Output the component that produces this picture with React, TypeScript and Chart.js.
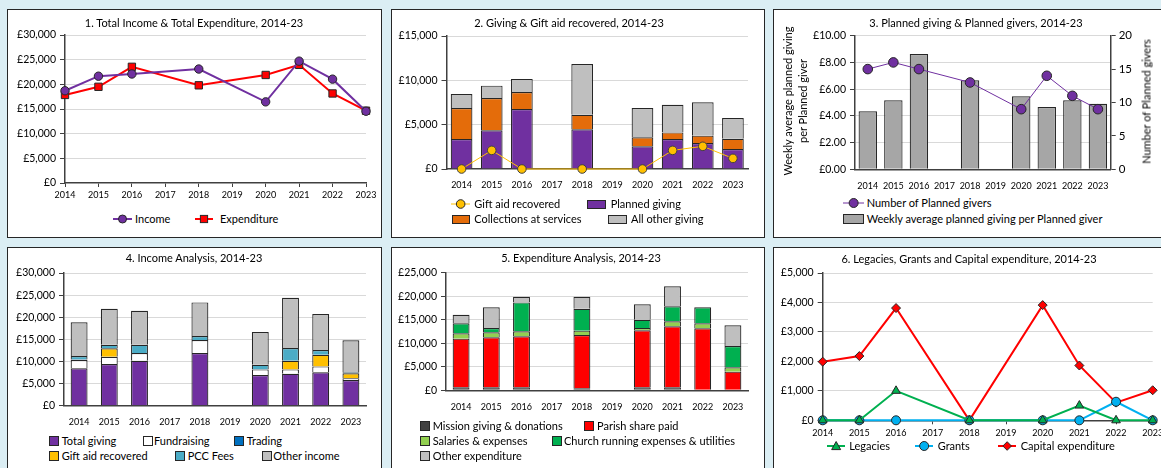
import React, { useEffect, useRef } from 'react';
import { Chart, registerables } from 'chart.js';
Chart.register(...registerables);

const FONT = 'Lato, "Open Sans", sans-serif';
const AXIS = '#404040';
const GRID = '#d9d9d9';
const EDGE = '#262626';

// ---------- DATA ----------
const years = ['2014', '2015', '2016', '2017', '2018', '2019', '2020', '2021', '2022', '2023'];

// 1. Total income & expenditure
const income = [18700, 21650, 22100, null, 23100, null, 16450, 24700, 21050, 14550];
const expenditure = [17850, 19500, 23550, null, 19800, null, 21900, 23950, 18150, 14650];

// 2. Giving & gift aid
const plannedGiving = [3380, 4360, 6770, null, 4470, null, 2560, 3380, 2930, 2260];
const collections = [3500, 3650, 1920, null, 1650, null, 1010, 750, 830, 1160];
const otherGiving = [1580, 1390, 1470, null, 5710, null, 3310, 3120, 3760, 2330];
const giftAidRecovered = [0, 2100, 0, null, 0, null, 0, 2100, 2560, 1200];

// 3. Planned giving & givers
const weeklyAvgPerGiver = [4.34, 5.16, 8.63, null, 6.66, null, 5.46, 4.66, 5.16, 4.91];
const plannedGivers = [15, 16, 15, null, 13, null, 9, 14, 11, 9];

// 4. Income analysis
const totalGiving = [8440, 9420, 10170, null, 11900, null, 6930, 7230, 7540, 5800];
const fundraising = [1880, 1660, 1740, null, 2940, null, 1280, 980, 1350, 380];
const trading = [150, 0, 0, null, 0, null, 0, 0, 0, 0];
const giftAidIncome = [0, 1880, 0, null, 0, null, 0, 1960, 2640, 1130];
const pccFees = [750, 830, 1880, null, 900, null, 1060, 2860, 1050, 230];
const otherIncome = [7620, 8140, 7690, null, 7610, null, 7380, 11380, 8140, 7230];

// 5. Expenditure analysis
const missionGiving = [640, 640, 640, null, 430, null, 640, 640, 0, 0];
const parishShare = [10340, 10620, 10830, null, 11330, null, 12110, 12960, 13170, 3970];
const salaries = [1130, 1060, 1060, null, 920, null, 500, 1060, 1060, 920];
const churchRunning = [2120, 920, 6160, null, 4670, null, 1760, 3190, 3400, 4530];
const otherExpenditure = [1840, 4390, 1200, null, 2550, null, 3260, 4250, 0, 4390];

// 6. Legacies, grants, capital
const legacies = [0, 0, 1000, null, 0, null, 0, 500, 0, 0];
const grants = [0, 0, 0, null, 0, null, 0, 0, 630, 0];
const capitalExpenditure = [1990, 2180, 3810, null, 0, null, 3910, 1860, 600, 1020];

// ---------- HELPERS ----------
const gbp = (v: number) => '£' + v.toLocaleString('en-GB');
const gbp2 = (v: number) => '£' + v.toFixed(2);

type Rect = { x: number; y: number; w: number; h: number };
type Plot = { l: number; t: number; r: number; b: number };

const yAxis = (max: number, step: number, fmt: (v: number) => string, width: number) => ({
  type: 'linear',
  position: 'left',
  min: 0,
  max,
  ticks: { stepSize: step, callback: (v: any) => fmt(Number(v)), font: { family: FONT, size: 10.5 }, color: '#000', padding: 4 },
  grid: {
    color: (c: any) => (c.tick && c.tick.value === 0 ? 'rgba(0,0,0,0)' : GRID),
    lineWidth: 1,
    tickLength: 5,
    tickColor: AXIS,
  },
  border: { color: AXIS, width: 1.5 },
  afterFit: (s: any) => {
    s.width = width;
  },
});

const xAxis = (line: boolean, height: number, stacked = false) => ({
  type: 'category',
  offset: !line,
  stacked,
  grid: { display: line, drawOnChartArea: false, tickLength: 4, tickColor: AXIS },
  border: { color: AXIS, width: 1.5 },
  ticks: { font: { family: FONT, size: 9 }, color: '#000', padding: line ? 3 : 7, maxRotation: 0, autoSkip: false },
  afterFit: (s: any) => {
    s.height = height;
  },
});

const bar = (label: string, data: any[], color: string) => ({
  type: 'bar',
  label,
  data,
  backgroundColor: color,
  borderColor: EDGE,
  borderWidth: 1.2,
  categoryPercentage: 1,
  barPercentage: 0.56,
});

const line = (label: string, data: any[], color: string, width: number, style: string, r: number) => ({
  type: 'line',
  label,
  data,
  borderColor: color,
  borderWidth: width,
  backgroundColor: color,
  pointStyle: style,
  pointRadius: r,
  pointBackgroundColor: color,
  pointBorderColor: EDGE,
  pointBorderWidth: 1,
  tension: 0,
  spanGaps: true,
  clip: false,
});

function ChartCanvas({ rect, plot, rightW = 0, build }: { rect: Rect; plot: Plot; rightW?: number; build: (yW: number, xH: number) => any }) {
  const ref = useRef<HTMLCanvasElement>(null);
  useEffect(() => {
    const xH = 20;
    const yW = plot.l - rect.x - 2;
    const padding = {
      left: 2,
      top: plot.t - rect.y,
      right: rect.x + rect.w - plot.r - rightW,
      bottom: rect.y + rect.h - plot.b - xH,
    };
    const cfg = build(yW, xH);
    cfg.options = {
      ...cfg.options,
      responsive: false,
      maintainAspectRatio: false,
      animation: false,
      devicePixelRatio: 1,
      layout: { padding },
      plugins: { legend: { display: false }, tooltip: { enabled: false }, title: { display: false } },
    };
    const chart = new Chart(ref.current as HTMLCanvasElement, cfg);
    return () => chart.destroy();
  }, []);
  return (
    <canvas
      ref={ref}
      width={rect.w}
      height={rect.h}
      style={{ position: 'absolute', left: rect.x, top: rect.y, width: rect.w, height: rect.h, display: 'block' }}
    />
  );
}

type LegendItem = {
  mx: number;
  mw: number;
  y: number;
  tx: number;
  text: string;
  kind: 'box' | 'line';
  color: string;
  bh?: number;
  lw?: number;
  shape?: 'circle' | 'rect' | 'triangle' | 'diamond';
  r?: number;
};

function Marker({ it }: { it: LegendItem }) {
  if (it.kind === 'box') {
    const bh = it.bh || 10;
    return (
      <div
        style={{
          position: 'absolute',
          left: it.mx,
          top: it.y - bh / 2,
          width: it.mw,
          height: bh,
          background: it.color,
          border: '1px solid ' + EDGE,
          boxSizing: 'border-box',
        }}
      />
    );
  }
  const h = 14;
  const cx = it.mw / 2;
  const cy = h / 2;
  const r = it.r || 4;
  let shape: any = null;
  if (it.shape === 'circle') shape = <circle cx={cx} cy={cy} r={r} fill={it.color} stroke={EDGE} strokeWidth={1} />;
  if (it.shape === 'rect') shape = <rect x={cx - r} y={cy - r} width={2 * r} height={2 * r} fill={it.color} stroke={EDGE} strokeWidth={1} />;
  if (it.shape === 'triangle')
    shape = <polygon points={`${cx},${cy - r} ${cx + r},${cy + r * 0.8} ${cx - r},${cy + r * 0.8}`} fill={it.color} stroke={EDGE} strokeWidth={1} />;
  if (it.shape === 'diamond')
    shape = <polygon points={`${cx},${cy - r} ${cx + r},${cy} ${cx},${cy + r} ${cx - r},${cy}`} fill={it.color} stroke={EDGE} strokeWidth={1} />;
  return (
    <svg style={{ position: 'absolute', left: it.mx, top: it.y - h / 2 }} width={it.mw} height={h}>
      <line x1={0} y1={cy} x2={it.mw} y2={cy} stroke={it.color} strokeWidth={it.lw || 2} />
      {shape}
    </svg>
  );
}

function Legend({ items }: { items: LegendItem[] }) {
  return (
    <>
      {items.map((it, i) => (
        <React.Fragment key={i}>
          <Marker it={it} />
          <div
            style={{
              position: 'absolute',
              left: it.tx,
              top: it.y - 8,
              height: 16,
              lineHeight: '16px',
              fontSize: 11,
              fontFamily: FONT,
              whiteSpace: 'nowrap',
              color: '#000',
            }}
          >
            {it.text}
          </div>
        </React.Fragment>
      ))}
    </>
  );
}

function Title({ cx, y, text }: { cx: number; y: number; text: string }) {
  return (
    <div
      style={{
        position: 'absolute',
        left: cx - 200,
        width: 400,
        top: y - 8,
        height: 16,
        lineHeight: '16px',
        textAlign: 'center',
        fontSize: 11,
        fontFamily: FONT,
        color: '#000',
        whiteSpace: 'nowrap',
      }}
    >
      {text}
    </div>
  );
}

function Panel({ x, y, w, h }: { x: number; y: number; w: number; h: number }) {
  return (
    <div
      style={{
        position: 'absolute',
        left: x,
        top: y,
        width: w,
        height: h,
        background: '#fff',
        border: '1.5px solid #262626',
        boxSizing: 'border-box',
      }}
    />
  );
}

function RotText({ cx, cy, lines, size = 11 }: { cx: number; cy: number; lines: string[]; size?: number }) {
  const w = 220;
  const lh = 15;
  const h = lines.length * lh;
  return (
    <div
      style={{
        position: 'absolute',
        left: cx - w / 2,
        top: cy - h / 2,
        width: w,
        height: h,
        lineHeight: lh + 'px',
        textAlign: 'center',
        fontSize: size,
        fontFamily: FONT,
        color: '#000',
        transform: 'rotate(-90deg)',
        whiteSpace: 'nowrap',
      }}
    >
      {lines.map((l, i) => (
        <div key={i}>{l}</div>
      ))}
    </div>
  );
}

export default function App() {
  const PURPLE = '#7030a0';
  const RED = '#ff0000';
  const GOLD = '#ffc000';
  const ORANGE = '#e46c0a';
  const LGRAY = '#bfbfbf';

  return (
    <div style={{ position: 'absolute', left: 0, top: 0, width: 1161, height: 468, background: '#dbeef4', overflow: 'hidden' }}>
      {/* Panels */}
      <Panel x={7} y={9} w={375} h={229} />
      <Panel x={391} y={9} w={374} h={229} />
      <Panel x={773} y={9} w={410} h={229} />
      <Panel x={7} y={247} w={375} h={240} />
      <Panel x={391} y={247} w={374} h={240} />
      <Panel x={773} y={247} w={410} h={240} />

      {/* 1 */}
      <ChartCanvas
        rect={{ x: 9, y: 23, w: 371, h: 184 }}
        plot={{ l: 65, t: 35, r: 366, b: 183 }}
        build={(yW, xH) => ({
          type: 'line',
          data: {
            labels: years,
            datasets: [line('Income', income, PURPLE, 2, 'circle', 4.2), line('Expenditure', expenditure, RED, 2, 'rect', 5.2)],
          },
          options: { scales: { x: xAxis(true, xH), y: yAxis(30000, 5000, gbp, yW) } },
        })}
      />
      <Title cx={194} y={22.7} text="1. Total Income & Total Expenditure, 2014-23" />
      <Legend
        items={[
          { mx: 112.7, mw: 19, y: 219, tx: 135, text: 'Income', kind: 'line', color: PURPLE, shape: 'circle', r: 4 },
          { mx: 195, mw: 18, y: 219, tx: 220, text: 'Expenditure', kind: 'line', color: RED, shape: 'rect', r: 3.6 },
        ]}
      />

      {/* 2 */}
      <ChartCanvas
        rect={{ x: 393, y: 14, w: 369, h: 179 }}
        plot={{ l: 446.5, t: 36, r: 748, b: 169 }}
        build={(yW, xH) => ({
          type: 'bar',
          data: {
            labels: years,
            datasets: [
              { ...line('Gift aid recovered', giftAidRecovered, GOLD, 1, 'circle', 4.3), pointBorderColor: AXIS },
              { ...bar('Planned giving', plannedGiving, PURPLE), barPercentage: 0.72 },
              { ...bar('Collections at services', collections, ORANGE), barPercentage: 0.72 },
              { ...bar('All other giving', otherGiving, LGRAY), barPercentage: 0.72 },
            ],
          },
          options: { scales: { x: xAxis(false, xH, true), y: { ...yAxis(15000, 5000, gbp, yW), stacked: true } } },
        })}
      />
      <Title cx={569} y={22.7} text="2. Giving & Gift aid recovered, 2014-23" />
      <Legend
        items={[
          { mx: 450.7, mw: 19.3, y: 204, tx: 474.3, text: 'Gift aid recovered', kind: 'line', color: GOLD, lw: 1, shape: 'circle', r: 4.3 },
          { mx: 586.7, mw: 19, y: 204, tx: 610.7, text: 'Planned giving', kind: 'box', color: PURPLE, bh: 9 },
          { mx: 451.7, mw: 18.3, y: 219, tx: 474.3, text: 'Collections at services', kind: 'box', color: ORANGE, bh: 9 },
          { mx: 607.7, mw: 19, y: 219, tx: 631, text: 'All other giving', kind: 'box', color: LGRAY, bh: 9 },
        ]}
      />

      {/* 3 */}
      <ChartCanvas
        rect={{ x: 775, y: 23, w: 400, h: 170 }}
        plot={{ l: 855, t: 35.7, r: 1110.7, b: 169.3 }}
        rightW={30}
        build={(yW, xH) => ({
          type: 'bar',
          data: {
            labels: years,
            datasets: [
              { ...line('Number of Planned givers', plannedGivers, PURPLE, 1, 'circle', 4.8), yAxisID: 'y1' },
              { ...bar('Weekly average planned giving per Planned giver', weeklyAvgPerGiver, '#a6a6a6'), barPercentage: 0.72, yAxisID: 'y' },
            ],
          },
          options: {
            scales: {
              x: xAxis(false, xH),
              y: yAxis(10, 2, gbp2, yW),
              y1: {
                type: 'linear',
                position: 'right',
                min: 0,
                max: 20,
                ticks: { stepSize: 5, font: { family: FONT, size: 11.5 }, color: '#000', padding: 3 },
                grid: { drawOnChartArea: false, tickLength: 5, tickColor: AXIS },
                border: { color: AXIS, width: 1.5 },
                afterFit: (s: any) => {
                  s.width = 30;
                },
              },
            },
          },
        })}
      />
      <Title cx={976} y={22.7} text="3. Planned giving & Planned givers, 2014-23" />
      <RotText cx={795} cy={101} lines={['Weekly average planned giving', 'per Planned giver']} />
      <RotText cx={1146} cy={101.7} lines={['Number of Planned givers']} />
      <Legend
        items={[
          { mx: 842.7, mw: 21.3, y: 202.7, tx: 866.7, text: 'Number of Planned givers', kind: 'line', color: PURPLE, lw: 1, shape: 'circle', r: 4.5 },
          { mx: 842.7, mw: 21.3, y: 219, tx: 866.7, text: 'Weekly average planned giving per Planned giver', kind: 'box', color: '#a6a6a6', bh: 10 },
        ]}
      />

      {/* 4 */}
      <ChartCanvas
        rect={{ x: 9, y: 261, w: 371, h: 169 }}
        plot={{ l: 64, t: 273, r: 366, b: 405.7 }}
        build={(yW, xH) => ({
          type: 'bar',
          data: {
            labels: years,
            datasets: [
              bar('Total giving', totalGiving, PURPLE),
              bar('Fundraising', fundraising, '#ffffff'),
              bar('Trading', trading, '#0070c0'),
              bar('Gift aid recovered', giftAidIncome, GOLD),
              bar('PCC Fees', pccFees, '#4bacc6'),
              bar('Other income', otherIncome, LGRAY),
            ],
          },
          options: { scales: { x: xAxis(false, xH, true), y: { ...yAxis(30000, 5000, gbp, yW), stacked: true } } },
        })}
      />
      <Title cx={194} y={258.3} text="4. Income Analysis, 2014-23" />
      <Legend
        items={[
          { mx: 49.3, mw: 10, y: 441.3, tx: 61.7, text: 'Total giving', kind: 'box', color: PURPLE },
          { mx: 142.7, mw: 10, y: 441.3, tx: 154, text: 'Fundraising', kind: 'box', color: '#ffffff' },
          { mx: 234.3, mw: 10, y: 441.3, tx: 246.7, text: 'Trading', kind: 'box', color: '#0070c0' },
          { mx: 49.3, mw: 10, y: 455.7, tx: 61.7, text: 'Gift aid recovered', kind: 'box', color: GOLD },
          { mx: 175.3, mw: 10, y: 455.7, tx: 187.7, text: 'PCC Fees', kind: 'box', color: '#4bacc6' },
          { mx: 261.7, mw: 10, y: 455.7, tx: 273.3, text: 'Other income', kind: 'box', color: LGRAY },
        ]}
      />

      {/* 5 */}
      <ChartCanvas
        rect={{ x: 393, y: 261, w: 369, h: 154 }}
        plot={{ l: 446, t: 272.7, r: 748, b: 390.3 }}
        build={(yW, xH) => ({
          type: 'bar',
          data: {
            labels: years,
            datasets: [
              bar('Mission giving & donations', missionGiving, '#404040'),
              bar('Parish share paid', parishShare, RED),
              bar('Salaries & expenses', salaries, '#92d050'),
              bar('Church running expenses & utilities', churchRunning, '#00b050'),
              bar('Other expenditure', otherExpenditure, LGRAY),
            ],
          },
          options: { scales: { x: xAxis(false, xH, true), y: { ...yAxis(25000, 5000, gbp, yW), stacked: true } } },
        })}
      />
      <Title cx={581} y={258} text="5. Expenditure Analysis, 2014-23" />
      <Legend
        items={[
          { mx: 420, mw: 10, y: 426.3, tx: 432.7, text: 'Mission giving & donations', kind: 'box', color: '#404040' },
          { mx: 584.3, mw: 10, y: 426.3, tx: 597, text: 'Parish share paid', kind: 'box', color: RED },
          { mx: 420, mw: 10, y: 441.3, tx: 432.7, text: 'Salaries & expenses', kind: 'box', color: '#92d050' },
          { mx: 551.7, mw: 10, y: 441.3, tx: 564, text: 'Church running expenses & utilities', kind: 'box', color: '#00b050' },
          { mx: 420, mw: 10, y: 456.3, tx: 432.7, text: 'Other expenditure', kind: 'box', color: LGRAY },
        ]}
      />

      {/* 6 */}
      <ChartCanvas
        rect={{ x: 775, y: 261, w: 400, h: 184 }}
        plot={{ l: 822.7, t: 273, r: 1152.7, b: 420.3 }}
        build={(yW, xH) => ({
          type: 'line',
          data: {
            labels: years,
            datasets: [
              line('Legacies', legacies, '#00b050', 2, 'triangle', 5),
              line('Grants', grants, '#00b0f0', 2, 'circle', 4.5),
              line('Capital expenditure', capitalExpenditure, RED, 2, 'rectRot', 4.5),
            ],
          },
          options: { scales: { x: xAxis(true, xH), y: yAxis(5000, 1000, gbp, yW) } },
        })}
      />
      <Title cx={969} y={259} text="6. Legacies, Grants and Capital expenditure, 2014-23" />
      <Legend
        items={[
          { mx: 826.7, mw: 18.3, y: 446.3, tx: 849.3, text: 'Legacies', kind: 'line', color: '#00b050', shape: 'triangle', r: 4.5 },
          { mx: 915, mw: 18.3, y: 446.3, tx: 937.7, text: 'Grants', kind: 'line', color: '#00b0f0', shape: 'circle', r: 4.5 },
          { mx: 997.7, mw: 18.3, y: 446.3, tx: 1020.7, text: 'Capital expenditure', kind: 'line', color: RED, shape: 'diamond', r: 4.3 },
        ]}
      />
    </div>
  );
}
